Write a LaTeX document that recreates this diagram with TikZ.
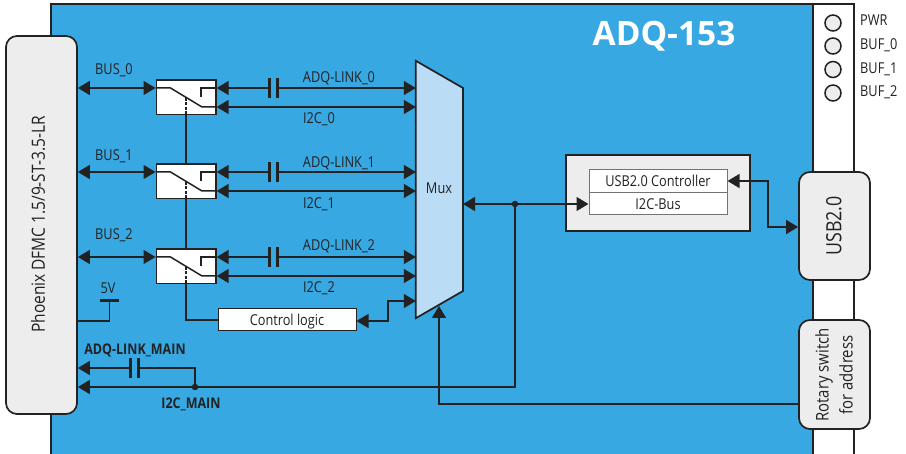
\documentclass[tikz,border=0pt]{standalone}
\usepackage{fontspec}
\setmainfont[FakeStretch=0.85]{Open Sans}
\newfontfamily\titlefont{Open Sans}
\usetikzlibrary{arrows.meta,calc}
\definecolor{board}{HTML}{38A8E2}
\definecolor{ink}{HTML}{222222}
\definecolor{panel}{HTML}{EDEDED}
\definecolor{muxfill}{HTML}{BADCF5}
\tikzset{
  x=1pt,y=-1pt,
  every node/.style={text=ink,font=\fontsize{15}{17}\selectfont,inner sep=0pt},
  wire/.style={draw=ink,line width=1.5pt},
  dtip/.style={wire,{Triangle[length=12pt,width=14pt]}-{Triangle[length=12pt,width=14pt]}},
  rtip/.style={wire,-{Triangle[length=12pt,width=14pt]}},
  ltip/.style={wire,{Triangle[length=12pt,width=14pt]}-},
  connbox/.style={draw=ink,line width=1.7pt,fill=panel,rounded corners=11pt,minimum width=71pt},
  swbox/.style={draw=ink,line width=1.7pt,fill=white,minimum width=59.5pt,minimum height=34.5pt},
  capnode/.style={minimum width=8pt,minimum height=19pt},
  plate/.style={draw=ink,line width=3pt},
  whitebox/.style={draw=ink,line width=1pt,fill=white,text height=15.5pt,text depth=4.5pt},
  innerbox/.style={draw=black!55,line width=1pt,fill=white,minimum width=138pt,minimum height=22.5pt,text height=16pt,text depth=4pt},
  led/.style={circle,draw=ink,line width=1.5pt,fill=panel,minimum size=16pt},
  dotj/.style={circle,fill=ink,minimum size=6.5pt},
  lab/.style={},
  boldlab/.style={font=\fontsize{14.7}{17}\bfseries\selectfont},
}
\begin{document}
\begin{tikzpicture}
\useasboundingbox (0,0) rectangle (906,454);
% board and strip
\fill[white] (0,0) rectangle (906,454);
\fill[board] (51,4) rectangle (813,454);
\draw[ink,line width=1.7pt] (51,454) -- (51,4) -- (854,4) -- (854,454);
\draw[ink,line width=1.7pt] (813,4) -- (813,454);
\node[font=\titlefont\fontsize{33.5}{36}\bfseries\selectfont,text=white] (title) at (664,36.5) {ADQ-153};
% LEDs
\foreach \n/\y/\ly/\t in {a/23/20/PWR,b/46/45/BUF\_0,c/69.5/69/BUF\_1,d/93/92/BUF\_2}{
  \node[led] (led\n) at (833,\y) {};
  \node[anchor=west] (ledlab\n) at (860,\ly) {\t};
}
% connectors boxes
\node[connbox,minimum height=378pt] (phx) at (41.5,225) {};
\node[rotate=90,font=\fontsize{18.2}{20}\selectfont] (phxt) at (38,224.5) {Phoenix DFMC 1.5/9-ST-3.5-LR};
\node[connbox,minimum height=108pt] (usb) at (834.5,226) {};
\node[rotate=90,font=\fontsize{21}{24}\selectfont] (usbt) at (834,226) {USB2.0};
\node[connbox,minimum height=109pt] (rot) at (834.5,374.5) {};
\node[rotate=90,font=\fontsize{17.5}{24}\selectfont,align=center] (rott) at (834,375) {Rotary switch\\for address};
% mux
\node[minimum width=47pt,minimum height=257pt] (mux) at (439.5,189.5) {};
\filldraw[fill=muxfill,draw=ink,line width=1.7pt] (mux.north west) -- (463,88) -- (463,291) -- (mux.south west) -- cycle;
\node (muxt) at (439,188) {Mux};
% USB controller
\node[draw=ink,line width=1.7pt,fill=panel,minimum width=184pt,minimum height=76pt] (ctl) at (658,193) {};
\node[innerbox] (uc) at (658,181) {USB2.0 Controller};
\node[innerbox] (ib) at (658,203.5) {I2C-Bus};
% channels
\foreach \i/\ttop/\bly/\aly/\ily in {0/80/70/78/119,1/164/156/163/204,2/249/235/246/288}{
  \pgfmathsetmacro{\ya}{\ttop+8}
  \pgfmathsetmacro{\yb}{\ttop+27}
  \pgfmathsetmacro{\yd}{\ttop+18}
  \node[swbox,anchor=north west] (sw\i) at (155.5,\ttop-0.8) {};
  \coordinate (swl\i) at (sw\i.west |- 0,\ya);
  \coordinate (swr\i) at (sw\i.east |- 0,\ya);
  \coordinate (swq\i) at (sw\i.east |- 0,\yb);
  \coordinate (mxa\i) at (mux.west |- 0,\ya);
  \coordinate (mxb\i) at (mux.west |- 0,\yb);
  \node[capnode] (cap\i) at (273.5,\ya) {};
  \draw[plate] (cap\i.north west) -- (cap\i.south west);
  \draw[plate] (cap\i.north east) -- (cap\i.south east);
  \draw[dtip] (phx.east |- swl\i) -- (swl\i);
  \draw[ltip] (swr\i) -- (cap\i.west);
  \draw[rtip] (cap\i.east) -- (mxa\i);
  \draw[dtip] (swq\i) -- (mxb\i);
  % switch symbol
  \draw[wire] (swl\i) -- ++(15,0) -- (202,\yb) -- (swq\i);
  \draw[wire] (swr\i) -- (201,\ya) -- (201,\ya+9);
  \draw[wire,dash pattern=on 3pt off 1.5pt] (186,\yd) -- (sw\i.south -| 186,0);
  \node[lab] (bus\i) at (114,\bly) {BUS\_\i};
  \node[lab] (adq\i) at (339,\aly) {ADQ-LINK\_\i};
  \node[lab] (iic\i) at (319,\ily) {I2C\_\i};
}
\coordinate (ctrlx) at (186,0);
\draw[wire] (sw0.south -| ctrlx) -- (sw1.north -| ctrlx);
\draw[wire] (sw1.south -| ctrlx) -- (sw2.north -| ctrlx);
% control logic
\node[whitebox,minimum width=138pt,minimum height=22pt] (cl) at (287,320) {Control logic};
\draw[wire] (sw2.south -| ctrlx) |- (cl.west);
\coordinate (clr) at (cl.east |- 0,321);
\coordinate (mxc) at (mux.west |- 0,301);
\draw[dtip] (clr) -- (388,321) -- (388,301) -- (mxc);
% right of mux
\coordinate (mxo) at (463,204);
\coordinate (ibl) at (ib.west |- mxo);
\draw[dtip] (mxo) -- (ibl);
\node[dotj] (j1) at (515,204) {};
% 5V
\coordinate (fvb) at (109.5,301);
\coordinate (phf) at (phx.east |- 0,321);
\draw[wire] (phf) -- (109.5,321) -- (fvb);
\draw[draw=ink,line width=3pt] (100,301) -- (119,301);
\node[lab] (fv) at (108,288) {5V};
% I2C main & link main
\coordinate (phm) at (phx.east |- 0,387);
\coordinate (phl) at (phx.east |- 0,368);
\node[dotj] (j2) at (195,387) {};
\draw[ltip] (phm) -- (515,387) -- (j1.center);
\node[capnode] (capm) at (134.5,368) {};
\draw[plate] (capm.north west) -- (capm.south west);
\draw[plate] (capm.north east) -- (capm.south east);
\draw[ltip] (phl) -- (capm.west);
\draw[wire] (capm.east) -- (195,368) -- (j2.center);
\node[boldlab] (adqm) at (135,350) {ADQ-LINK\_MAIN};
\node[boldlab] (iicm) at (191,404) {I2C\_MAIN};
% rotary to mux
\coordinate (rotl) at (rot.west |- 0,404);
\coordinate (mxu) at (439,306);
\draw[rtip] (rotl) -- (439,404) -- (mxu);
% usb link
\coordinate (ucr) at (uc.east |- 0,181);
\coordinate (usl) at (usb.west |- 0,227);
\draw[dtip] (ucr) -- (768,181) -- (768,227) -- (usl);
\end{tikzpicture}
\end{document}
